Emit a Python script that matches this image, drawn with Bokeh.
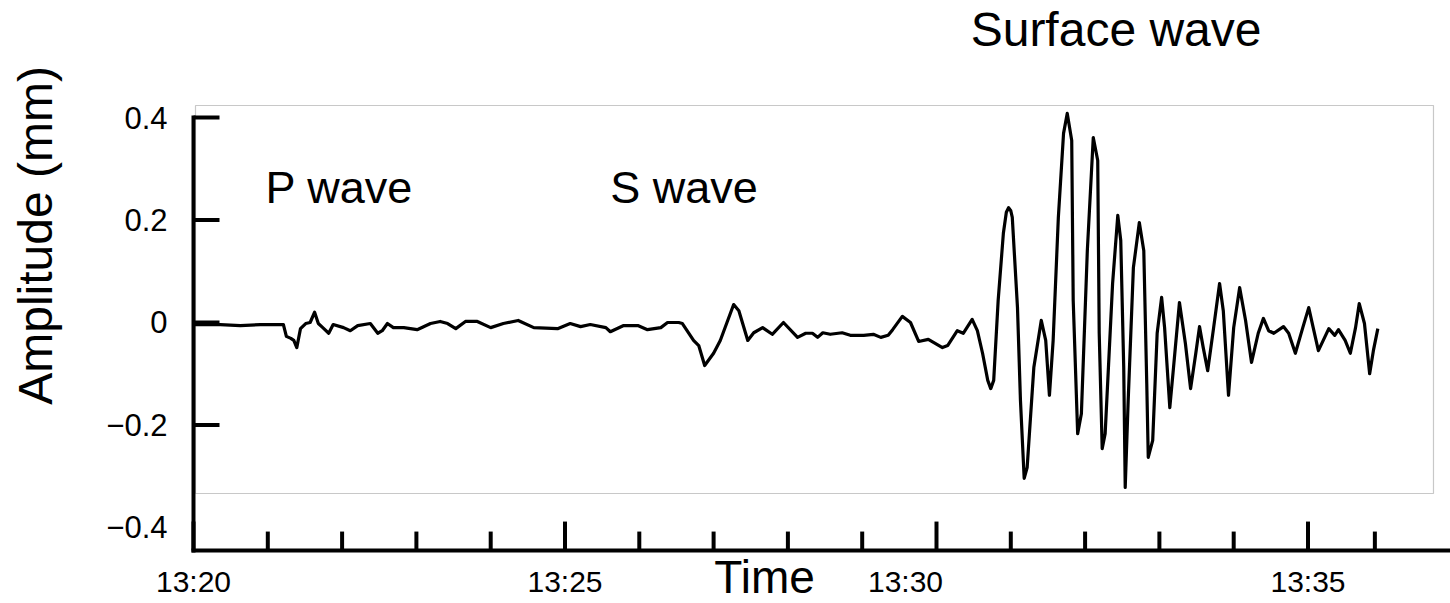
import numpy as np
from bokeh.plotting import figure
from bokeh.models import Range1d
from bokeh.core.properties import value
from bokeh.embed import file_html
from bokeh.resources import INLINE

# Seismogram trace: time in minutes after 13:20, ground displacement in mm
# Quiet record, P and S arrivals
t_body = [0.00, 0.36, 0.63, 0.90, 1.21, 1.25, 1.31, 1.35, 1.39, 1.44, 1.51, 1.57, 1.63, 1.68,
          1.74, 1.82, 1.88, 2.02, 2.11, 2.21, 2.38, 2.48, 2.54, 2.61, 2.69, 2.83, 3.01, 3.19,
          3.32, 3.42, 3.53, 3.66, 3.82, 4.00, 4.17, 4.37, 4.58, 4.90, 5.07, 5.21, 5.34,
          5.55, 5.61, 5.79, 5.98, 6.11, 6.29, 6.38, 6.53, 6.58, 6.73, 6.80, 6.88, 7.00, 7.09,
          7.27, 7.34, 7.46, 7.54, 7.66, 7.79, 7.94, 8.13, 8.24, 8.33, 8.40, 8.47, 8.57, 8.73,
          8.84, 9.02, 9.15, 9.25, 9.35, 9.41, 9.54, 9.65, 9.76, 9.89, 10.08]
amp_body = [-0.004, -0.004, -0.006, -0.004, -0.004, -0.027, -0.031, -0.035, -0.049, -0.012,
            -0.002, 0.000, 0.020, -0.002, -0.010, -0.021, -0.004, -0.010, -0.016, -0.006,
            -0.002, -0.021, -0.016, -0.002, -0.010, -0.010, -0.014, -0.002, 0.002, -0.002,
            -0.012, 0.002, 0.002, -0.010, -0.002, 0.004, -0.010, -0.012, -0.002, -0.008, -0.004,
            -0.010, -0.018, -0.006, -0.006, -0.014, -0.010, 0.000, 0.000, -0.002, -0.035,
            -0.045, -0.084, -0.060, -0.035, 0.035, 0.023, -0.035, -0.020, -0.010, -0.023,
            0.000, -0.029, -0.021, -0.021, -0.029, -0.020, -0.023, -0.020, -0.025, -0.025,
            -0.023, -0.029, -0.025, -0.014, 0.012, 0.000, -0.037, -0.033, -0.049]

# Surface wave train
t_surface = [10.15, 10.28, 10.36, 10.48, 10.55, 10.62, 10.69, 10.73, 10.77, 10.83, 10.90,
             10.94, 10.97, 11.00, 11.02, 11.09, 11.13, 11.18, 11.22, 11.31, 11.41, 11.47,
             11.52, 11.57, 11.64, 11.71, 11.76, 11.82, 11.84, 11.90, 11.95, 12.03, 12.11,
             12.17, 12.19, 12.23, 12.27, 12.37, 12.44, 12.48, 12.52, 12.54, 12.58, 12.65,
             12.73, 12.79, 12.83, 12.85, 12.91, 12.97, 13.03, 13.07, 13.14, 13.19, 13.27,
             13.35, 13.42, 13.49, 13.54, 13.59, 13.65, 13.73, 13.81, 13.86, 13.93, 14.00,
             14.08, 14.16, 14.24, 14.33, 14.40, 14.47, 14.54, 14.67, 14.74, 14.83, 14.93,
             15.01, 15.07, 15.14, 15.28, 15.36, 15.41, 15.50, 15.57, 15.64, 15.69, 15.76,
             15.83, 15.88, 15.94]
amp_surface = [-0.045, -0.016, -0.021, 0.006, -0.016, -0.060, -0.113, -0.129, -0.113, 0.043,
               0.174, 0.215, 0.224, 0.218, 0.205, 0.029, -0.152, -0.304, -0.283, -0.088,
               0.004, -0.035, -0.142, -0.035, 0.205, 0.369, 0.408, 0.355, 0.043, -0.217,
               -0.178, 0.140, 0.361, 0.316, -0.021, -0.246, -0.217, 0.076, 0.209, 0.160,
               -0.088, -0.322, -0.152, 0.107, 0.195, 0.140, -0.119, -0.263, -0.230, -0.021,
               0.049, -0.010, -0.166, -0.088, 0.039, -0.041, -0.129, -0.060, -0.008, -0.049,
               -0.094, -0.010, 0.076, 0.023, -0.142, -0.010, 0.068, 0.004, -0.078, -0.021,
               0.008, -0.016, -0.021, -0.008, -0.021, -0.060, -0.010, 0.029, -0.010, -0.055,
               -0.012, -0.025, -0.014, -0.035, -0.060, -0.010, 0.037, -0.002, -0.100, -0.055,
               -0.012]

# Axis ticks and labels
x_major = [0, 5, 15]
x_major_labels = ["13:20", "13:25", "13:35"]
x_mid = [10]
x_mid_labels = ["13:30"]
x_minor = [1, 2, 3, 4, 6, 7, 8, 9, 11, 12, 13, 14, 15.9]
y_ticks = [-0.2, 0, 0.2, 0.4]
y_label_values = [-0.4, -0.2, 0, 0.2, 0.4]
y_labels = ["\u22120.4", "\u22120.2", "0", "0.2", "0.4"]

# phase annotations: (time, amplitude, text)
phases = [(0.97, 0.263, "P wave"), (5.61, 0.263, "S wave")]
surface_note = (10.46, 0.571, "Surface wave")

X_START, X_END = -2.5976, 16.918
Y_FLOOR, Y_TOP = -0.5483, 0.6283
AXIS_Y = -0.445          # amplitude level of the time axis
AXIS_TOP = 0.4           # upper end of the amplitude axis

FONT = value("Liberation Sans")

t = np.array(t_body + t_surface)
amp = np.array(amp_body + amp_surface)

p = figure(width=1450, height=603, output_backend="svg", toolbar_location=None,
           x_range=Range1d(X_START, X_END), y_range=Range1d(Y_FLOOR, Y_TOP),
           x_axis_type=None, y_axis_type=None, min_border=0)
p.outline_line_color = None
p.xgrid.visible = False
p.ygrid.visible = False
p.background_fill_color = "white"
p.border_fill_color = "white"

# border of the recorded sheet
p.quad(left=0.027, right=16.689, top=0.4234, bottom=-0.3337,
       fill_color=None, line_color="#c8c8c8", line_width=1.2)

# the trace
p.line(t, amp, line_color="black", line_width=3.2, line_join="round")

# axis lines
p.segment(x0=[0, 0], y0=[AXIS_Y, AXIS_Y], x1=[X_END, 0], y1=[AXIS_Y, AXIS_TOP],
          line_color="black", line_width=4, line_cap="square")

# tick marks (drawn inward)
p.ray(x=0, y=y_ticks, length=26, length_units="screen", angle=0,
      line_color="black", line_width=4)
p.ray(x=x_major + x_mid, y=AXIS_Y, length=29, length_units="screen", angle=np.pi / 2,
      line_color="black", line_width=4)
p.ray(x=x_minor, y=AXIS_Y, length=19, length_units="screen", angle=np.pi / 2,
      line_color="black", line_width=4)

# tick labels
p.text(x=0, y=y_label_values, text=y_labels, x_offset=-26, text_align="right",
       text_baseline="middle", text_font=FONT, text_font_size="31px", text_color="black")
p.text(x=x_major, y=AXIS_Y, text=x_major_labels, y_offset=31, text_align="center",
       text_baseline="middle", text_font=FONT, text_font_size="30px", text_color="black")
p.text(x=x_mid, y=AXIS_Y, text=x_mid_labels, x_offset=-31, y_offset=31, text_align="center",
       text_baseline="middle", text_font=FONT, text_font_size="30px", text_color="black")

# axis titles
p.text(x=[7.01], y=[AXIS_Y], text=["Time"], y_offset=26, text_align="left",
       text_baseline="middle", text_font=FONT, text_font_size="46px", text_color="black")
p.text(x=[X_START], y=[0.170], text=["Amplitude (mm)"], x_offset=35, angle=np.pi / 2,
       text_align="center", text_baseline="middle", text_font=FONT,
       text_font_size="48px", text_color="black")

# phase names
p.text(x=[ph[0] for ph in phases], y=[ph[1] for ph in phases], text=[ph[2] for ph in phases],
       text_align="left", text_baseline="middle", text_font=FONT,
       text_font_size="45px", text_color="black")
p.text(x=[surface_note[0]], y=[surface_note[1]], text=[surface_note[2]],
       text_align="left", text_baseline="middle", text_font=FONT,
       text_font_size="48px", text_color="black")

open("out.html", "w").write(file_html(p, INLINE))
